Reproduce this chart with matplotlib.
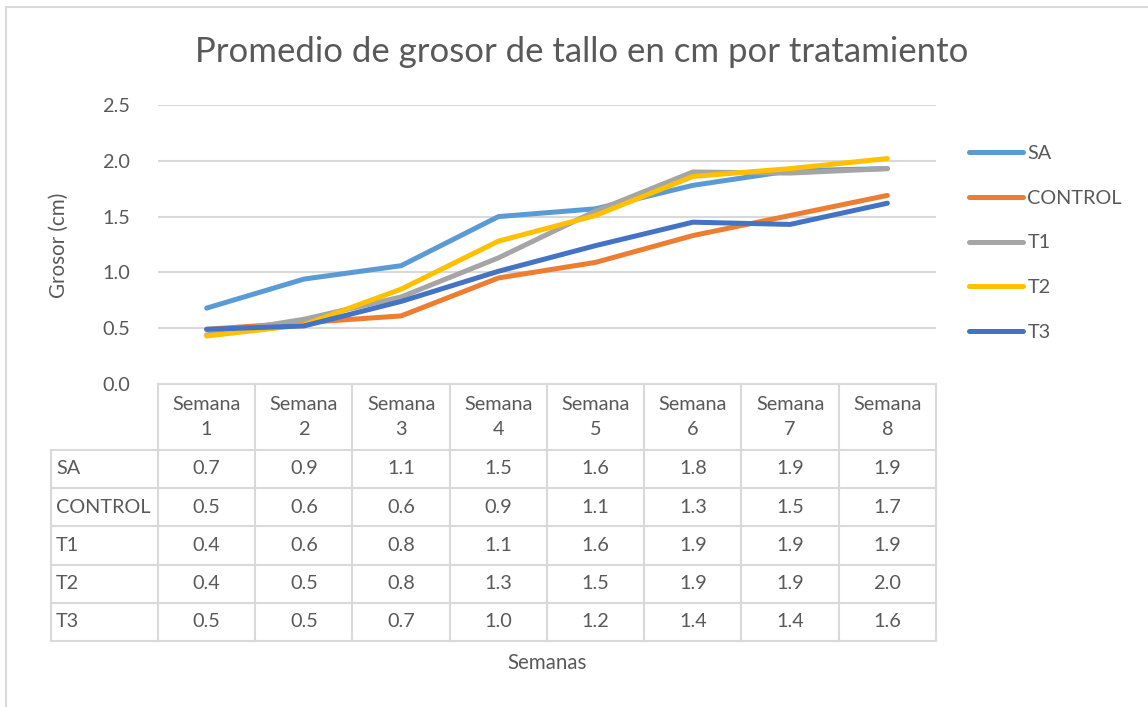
import matplotlib.pyplot as plt
from matplotlib.lines import Line2D
from matplotlib.patches import Rectangle

# values (lines) and the table underneath
semanas = ["Semana\n1", "Semana\n2", "Semana\n3", "Semana\n4",
           "Semana\n5", "Semana\n6", "Semana\n7", "Semana\n8"]
series_names = ["SA", "CONTROL", "T1", "T2", "T3"]
sa = [0.68, 0.94, 1.06, 1.50, 1.57, 1.78, 1.91, 1.93]
control = [0.49, 0.55, 0.61, 0.95, 1.09, 1.33, 1.51, 1.69]
t1 = [0.44, 0.58, 0.78, 1.13, 1.55, 1.90, 1.89, 1.93]
t2 = [0.43, 0.53, 0.85, 1.28, 1.51, 1.86, 1.93, 2.02]
t3 = [0.49, 0.52, 0.74, 1.01, 1.24, 1.45, 1.43, 1.62]
table_vals = [
    ["0.7", "0.9", "1.1", "1.5", "1.6", "1.8", "1.9", "1.9"],
    ["0.5", "0.6", "0.6", "0.9", "1.1", "1.3", "1.5", "1.7"],
    ["0.4", "0.6", "0.8", "1.1", "1.6", "1.9", "1.9", "1.9"],
    ["0.4", "0.5", "0.8", "1.3", "1.5", "1.9", "1.9", "2.0"],
    ["0.5", "0.5", "0.7", "1.0", "1.2", "1.4", "1.4", "1.6"],
]
y_ticks = [0.0, 0.5, 1.0, 1.5, 2.0, 2.5]

colors = ["#5B9BD5", "#ED7D31", "#A5A5A5", "#FFC000", "#4472C4"]
txt = "#595959"
grid = "#D9D9D9"
fs = 14.3

plt.rcParams['font.family'] = ['Lato', 'DejaVu Sans']

W, H = 1148, 707
fig = plt.figure(figsize=(W / 100, H / 100), dpi=100)

# chart frame (only top/left edges visible in the reference)
fig.add_artist(Rectangle((6 / W, -0.1), 1.2, (H - 7) / H + 0.1,
                         transform=fig.transFigure, fill=False,
                         edgecolor=grid, lw=1.5))

ax = fig.add_axes([158 / W, (H - 384) / H, (936 - 158) / W, (384 - 105) / H])
x = list(range(len(semanas)))
for name, vals, c in zip(series_names, [sa, control, t1, t2, t3], colors):
    ax.plot(x, vals, color=c, lw=3.6, solid_capstyle='round',
            solid_joinstyle='round', label=name)
ax.set_xlim(-0.5, len(semanas) - 0.5)
ax.set_ylim(0, 2.5)
ax.set_yticks(y_ticks)
ax.set_yticklabels([f"{v:.1f}" for v in y_ticks])
ax.set_xticks([])
ax.tick_params(axis='y', length=0, pad=20, labelsize=fs, labelcolor=txt)
for s in ax.spines.values():
    s.set_visible(False)
ax.grid(axis='y', color=grid, lw=1.5)
ax.set_axisbelow(True)

fig.text(59 / W, 1 - 245 / H, "Grosor (cm)", rotation=90, ha='center',
         va='center', fontsize=fs + 0.5, color=txt)
fig.text(582 / W, 1 - 52 / H,
         "Promedio de grosor de tallo en cm por tratamiento",
         ha='center', va='center', fontsize=25, color=txt)

# data table below the plot
tax = fig.add_axes([51 / W, (H - 641) / H, (936 - 51) / W, (641 - 384) / H])
hdr = 1.72
nrows = len(series_names)
tax.set_xlim(-1.6, len(semanas) - 0.5)
tax.set_ylim(hdr + nrows, 0)
tax.axis('off')
lk = dict(color=grid, lw=1.5, clip_on=False, solid_capstyle='projecting')
tax.plot([-0.5, len(semanas) - 0.5], [0, 0], **lk)
for r in range(nrows + 1):
    tax.plot([-1.6, len(semanas) - 0.5], [hdr + r, hdr + r], **lk)
tax.plot([-1.6, -1.6], [hdr, hdr + nrows], **lk)
for cidx in range(len(semanas) + 1):
    tax.plot([cidx - 0.5, cidx - 0.5], [0, hdr + nrows], **lk)
for cidx, lab in enumerate(semanas):
    tax.text(cidx, hdr / 2, lab, ha='center', va='center', fontsize=fs,
             color=txt, linespacing=1.6)
for r, name in enumerate(series_names):
    tax.text(-1.55, hdr + r + 0.5, name, ha='left', va='center',
             fontsize=fs, color=txt)
    for cidx, v in enumerate(table_vals[r]):
        tax.text(cidx, hdr + r + 0.5, v, ha='center', va='center',
                 fontsize=fs, color=txt)

fig.text(547 / W, 1 - 663 / H, "Semanas", ha='center', va='center',
         fontsize=fs + 0.5, color=txt)

handles = [Line2D([], [], color=c, lw=3.6, solid_capstyle='round')
           for c in colors]
fig.legend(handles, series_names, loc='upper left',
           bbox_to_anchor=(951 / W, 1 - 127 / H), frameon=False,
           fontsize=fs, labelcolor=txt, handlelength=2.75,
           handletextpad=0.2, labelspacing=1.4)

fig.savefig("out.png", dpi=100, facecolor='white')
